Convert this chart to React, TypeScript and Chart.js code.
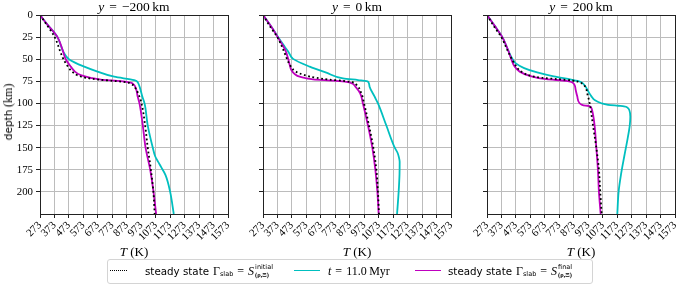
import React, { useEffect, useRef } from 'react';
import { Chart, registerables } from 'chart.js';

Chart.register(...registerables);

// ---------- axes ----------
const tempTicks = [273, 373, 473, 573, 673, 773, 873, 973, 1073, 1173, 1273, 1373, 1473, 1573];
const depthTicks = [0, 25, 50, 75, 100, 125, 150, 175, 200];
const tempMin = 273;
const tempMax = 1573;
const depthMax = 225;
const panelYkm = [-200, 0, 200];

// ---------- panel 1 : y = -200 km ----------
const p1InitialD = [0, 10, 25, 40, 50, 58, 64, 68, 71, 73, 74.5, 76, 78, 82, 90, 100, 125, 150, 175, 200, 225];
const p1InitialT = [273, 315, 375, 410, 435, 465, 495, 530, 590, 680, 780, 870, 905, 930, 955, 975, 1000, 1018, 1040, 1057, 1066];
const p1FinalD = [0, 10, 25, 40, 50, 58.4, 64, 68, 71, 73, 74.5, 75.5, 76.5, 78.8, 84, 92, 100, 125, 150, 175, 200, 225];
const p1FinalT = [273, 320, 394, 430, 451, 486, 515, 555, 624, 693, 809, 870, 900, 922, 938, 948, 961, 984, 1003, 1035, 1058, 1076];
const p1CurrentD = [0, 10, 25, 35, 42, 50.2, 58.4, 64, 69.8, 73.5, 75, 77, 83.5, 92, 100, 125, 150, 160, 166, 172, 181, 200, 225];
const p1CurrentT = [273, 320, 394, 418, 436, 475, 579, 671, 786, 924, 942, 952, 966, 980, 996, 1018, 1053, 1070, 1090, 1111, 1141, 1173, 1198];

// ---------- panel 2 : y = 0 km ----------
const p2InitialD = [0, 12, 25, 40, 50, 58, 64, 68, 71, 73, 74.5, 76, 79, 88, 100, 125, 150, 175, 200, 225];
const p2InitialT = [273, 318, 372, 415, 440, 465, 500, 560, 640, 730, 830, 890, 920, 952, 972, 1006, 1036, 1057, 1068, 1075];
const p2FinalD = [0, 12, 25.6, 40, 49, 56.6, 62.2, 66.7, 69.8, 72.8, 74.3, 75.5, 77.5, 81, 88.6, 100, 125, 150, 175, 200, 225];
const p2FinalT = [273, 325, 377, 428, 446, 458, 469, 492, 527, 619, 760, 850, 890, 912, 945, 964, 999, 1029, 1050, 1064, 1073];
const p2CurrentD = [0, 12, 25, 35.8, 42, 49.6, 58.4, 65.2, 71.6, 73.6, 74.8, 76, 81, 92.4, 100, 125, 150, 156, 161, 166, 180, 200, 225];
const p2CurrentT = [273, 325, 377, 423, 450, 481, 596, 711, 826, 930, 990, 1002, 1010, 1045, 1068, 1126, 1184, 1204, 1213, 1218, 1217, 1211, 1200];

// ---------- panel 3 : y = 200 km ----------
const p3InitialD = [0, 12, 25, 40, 50, 58, 62, 66, 69, 71, 72.5, 74, 75.5, 78, 82, 90, 96, 110, 125, 150, 175, 200, 225];
const p3InitialT = [273, 318, 372, 415, 445, 475, 495, 530, 580, 650, 760, 860, 905, 935, 955, 968, 978, 993, 1006, 1029, 1047, 1056, 1066];
const p3FinalD = [0, 12, 25, 39.5, 50, 58.3, 64, 68.8, 72.6, 74.4, 76, 79, 84.6, 92, 99.5, 101.5, 102.4, 102.9, 104.5, 110, 125, 150, 175, 200, 225];
const p3FinalT = [273, 325, 379, 418, 441, 464, 499, 568, 683, 821, 860, 878, 886, 897, 912, 930, 955, 980, 993, 1003, 1017, 1029, 1040, 1047, 1059];
const p3CurrentD = [0, 12, 25, 39.5, 50, 55, 60, 65, 69.5, 73, 74.5, 76, 80, 86, 92, 96.5, 99.5, 101.5, 102.6, 103.2, 104.8, 108, 115, 125, 140, 160, 180, 200, 225];
const p3CurrentT = [273, 325, 379, 418, 450, 475, 530, 620, 735, 855, 900, 925, 950, 972, 995, 1020, 1060, 1110, 1180, 1220, 1245, 1258, 1264, 1260, 1245, 1222, 1200, 1183, 1174];

const panels = [
  { initT: p1InitialT, initD: p1InitialD, finT: p1FinalT, finD: p1FinalD, curT: p1CurrentT, curD: p1CurrentD },
  { initT: p2InitialT, initD: p2InitialD, finT: p2FinalT, finD: p2FinalD, curT: p2CurrentT, curD: p2CurrentD },
  { initT: p3InitialT, initD: p3InitialD, finT: p3FinalT, finD: p3FinalD, curT: p3CurrentT, curD: p3CurrentD },
];

const CYAN = '#00bfbf';
const MAGENTA = '#bf00bf';
const SERIF = '"Liberation Serif", "Times New Roman", serif';
const SANS = '"DejaVu Sans", sans-serif';
const FRAME = '#222222';
const GRID = '#bcbcbc';

const CANVAS_W = 240;
const CANVAS_H = 250;
const AXIS_W = 40;
const PLOT_W = 188;
const canvasLefts = [0, 223, 447];

const framePlugin = {
  id: 'frame',
  afterDraw(chart: any) {
    const { ctx, chartArea } = chart;
    const l = Math.round(chartArea.left) + 0.5;
    const t = Math.round(chartArea.top) + 0.5;
    const r = Math.round(chartArea.right) + 0.5;
    const b = Math.round(chartArea.bottom) + 0.5;
    ctx.save();
    ctx.strokeStyle = FRAME;
    ctx.lineWidth = 1;
    ctx.strokeRect(l, t, r - l, b - t);
    ctx.restore();
  },
};

const pts = (T: number[], D: number[]) => T.map((t, i) => ({ x: t, y: D[i] }));

function Panel({ idx }: { idx: number }) {
  const ref = useRef<HTMLCanvasElement>(null);
  useEffect(() => {
    const s = panels[idx];
    const common = {
      pointRadius: 0,
      pointHoverRadius: 0,
      fill: false,
      cubicInterpolationMode: 'monotone' as const,
      borderWidth: 1.8,
    };
    const chart = new Chart(ref.current as HTMLCanvasElement, {
      type: 'line',
      data: {
        datasets: [
          { ...common, data: pts(s.initT, s.initD), borderColor: '#000', borderWidth: 1.8, borderDash: [1.8, 2.6] },
          { ...common, data: pts(s.finT, s.finD), borderColor: MAGENTA },
          { ...common, data: pts(s.curT, s.curD), borderColor: CYAN },
        ],
      },
      options: {
        indexAxis: 'y',
        responsive: false,
        animation: false,
        devicePixelRatio: 1,
        events: [],
        layout: { padding: { top: 15, right: CANVAS_W - AXIS_W - PLOT_W, left: 0, bottom: 0 } },
        plugins: { legend: { display: false }, tooltip: { enabled: false }, title: { display: false } },
        scales: {
          x: {
            type: 'linear',
            position: 'bottom',
            min: tempMin,
            max: tempMax,
            afterBuildTicks: (sc: any) => { sc.ticks = tempTicks.map((v) => ({ value: v })); },
            afterFit: (sc: any) => { sc.height = 36; },
            ticks: {
              autoSkip: false,
              minRotation: 45,
              maxRotation: 45,
              padding: 1,
              color: '#000',
              font: { family: SERIF, size: 10.8 },
              callback: (v: any) => String(v),
            },
            grid: { color: GRID, lineWidth: 1, drawTicks: true, tickLength: 4, tickColor: FRAME, tickWidth: 1 },
            border: { display: false },
          },
          y: {
            type: 'linear',
            position: 'left',
            reverse: true,
            min: 0,
            max: depthMax,
            afterBuildTicks: (sc: any) => { sc.ticks = depthTicks.map((v) => ({ value: v })); },
            afterFit: (sc: any) => { sc.width = AXIS_W; },
            ticks: {
              autoSkip: false,
              padding: 3,
              color: '#000',
              font: { family: SERIF, size: 10.8 },
              callback: (v: any) => (idx === 0 ? String(v) : ''),
            },
            grid: { color: GRID, lineWidth: 1, drawTicks: true, tickLength: 4, tickColor: FRAME, tickWidth: 1 },
            border: { display: false },
          },
        },
      } as any,
      plugins: [framePlugin],
    });
    return () => chart.destroy();
  }, [idx]);
  return (
    <canvas
      ref={ref}
      width={CANVAS_W}
      height={CANVAS_H}
      style={{ position: 'absolute', left: canvasLefts[idx], top: 0, width: CANVAS_W, height: CANVAS_H }}
    />
  );
}

const abs = (s: React.CSSProperties): React.CSSProperties => ({ position: 'absolute', ...s });

export default function App() {
  return (
    <div style={abs({ left: 0, top: 0, width: 685, height: 289, background: '#fff', overflow: 'hidden' })}>
      {panelYkm.map((y, i) => (
        <React.Fragment key={i}>
          <Panel idx={i} />
          <div
            style={abs({
              left: canvasLefts[i] + AXIS_W,
              top: 0,
              width: PLOT_W,
              textAlign: 'center',
              fontFamily: SERIF,
              fontSize: 13.5,
              lineHeight: '13px',
              whiteSpace: 'nowrap',
            })}
          >
            <i>y</i>
            <span style={{ margin: '0 5px' }}>=</span>
            {y < 0 ? '\u2212' + Math.abs(y) : String(y)}
            <span style={{ marginLeft: 2.5 }}>km</span>
          </div>
          <div
            style={abs({
              left: canvasLefts[i] + AXIS_W,
              top: 245,
              width: PLOT_W,
              textAlign: 'center',
              fontFamily: SERIF,
              fontSize: 13,
              lineHeight: '14px',
              whiteSpace: 'nowrap',
            })}
          >
            <i>T</i> (K)
          </div>
        </React.Fragment>
      ))}
      <div
        style={abs({
          left: 7.5,
          top: 112,
          transform: 'translate(-50%, -50%) rotate(-90deg)',
          whiteSpace: 'nowrap',
          fontSize: 11,
          lineHeight: '12px',
        })}
      >
        <span style={{ fontFamily: SANS, fontSize: 10.5 }}>depth</span>{' '}
        <span style={{ fontFamily: SERIF, fontSize: 12 }}>(km)</span>
      </div>

      {/* legend */}
      <div
        style={abs({
          left: 107,
          top: 259,
          width: 486,
          height: 25,
          boxSizing: 'border-box',
          border: '1px solid #d4d4d4',
          borderRadius: 3,
          background: '#fff',
        })}
      />
      <div style={abs({ left: 110, top: 269.5, width: 17, height: 0, borderTop: '1.8px dotted #000' })} />
      <div style={abs({ left: 294, top: 270, width: 26, height: 0, borderTop: '1.8px solid ' + CYAN })} />
      <div style={abs({ left: 415, top: 270, width: 26, height: 0, borderTop: '1.8px solid ' + MAGENTA })} />

      <div style={abs({ left: 145, top: 262, height: 18, display: 'flex', alignItems: 'center', whiteSpace: 'nowrap', fontSize: 10.3, fontFamily: SANS })}>
        <span>steady state</span>
        <span style={{ fontFamily: SERIF, fontSize: 12, marginLeft: 4 }}>Γ</span>
        <span style={{ fontSize: 6.5, position: 'relative', top: 3 }}>slab</span>
        <span style={{ fontFamily: SERIF, fontSize: 12, margin: '0 4px' }}>=</span>
        <i style={{ fontFamily: SERIF, fontSize: 12 }}>S</i>
        <span style={{ display: 'inline-flex', flexDirection: 'column', fontSize: 6.5, lineHeight: '7px', marginLeft: 1 }}>
          <span>initial</span>
          <span style={{ fontFamily: SERIF, fontWeight: 'bold' }}>(ρ,Ξ)</span>
        </span>
      </div>
      <div style={abs({ left: 328, top: 262, height: 18, display: 'flex', alignItems: 'center', whiteSpace: 'nowrap', fontSize: 12, fontFamily: SERIF })}>
        <i>t</i>
        <span style={{ margin: '0 4px' }}>=</span>
        <span>11.0</span>
        <span style={{ marginLeft: 2.5 }}>Myr</span>
      </div>
      <div style={abs({ left: 448, top: 262, height: 18, display: 'flex', alignItems: 'center', whiteSpace: 'nowrap', fontSize: 10.3, fontFamily: SANS })}>
        <span>steady state</span>
        <span style={{ fontFamily: SERIF, fontSize: 12, marginLeft: 4 }}>Γ</span>
        <span style={{ fontSize: 6.5, position: 'relative', top: 3 }}>slab</span>
        <span style={{ fontFamily: SERIF, fontSize: 12, margin: '0 4px' }}>=</span>
        <i style={{ fontFamily: SERIF, fontSize: 12 }}>S</i>
        <span style={{ display: 'inline-flex', flexDirection: 'column', fontSize: 6.5, lineHeight: '7px', marginLeft: 1 }}>
          <span>final</span>
          <span style={{ fontFamily: SERIF, fontWeight: 'bold' }}>(ρ,Ξ)</span>
        </span>
      </div>
    </div>
  );
}
